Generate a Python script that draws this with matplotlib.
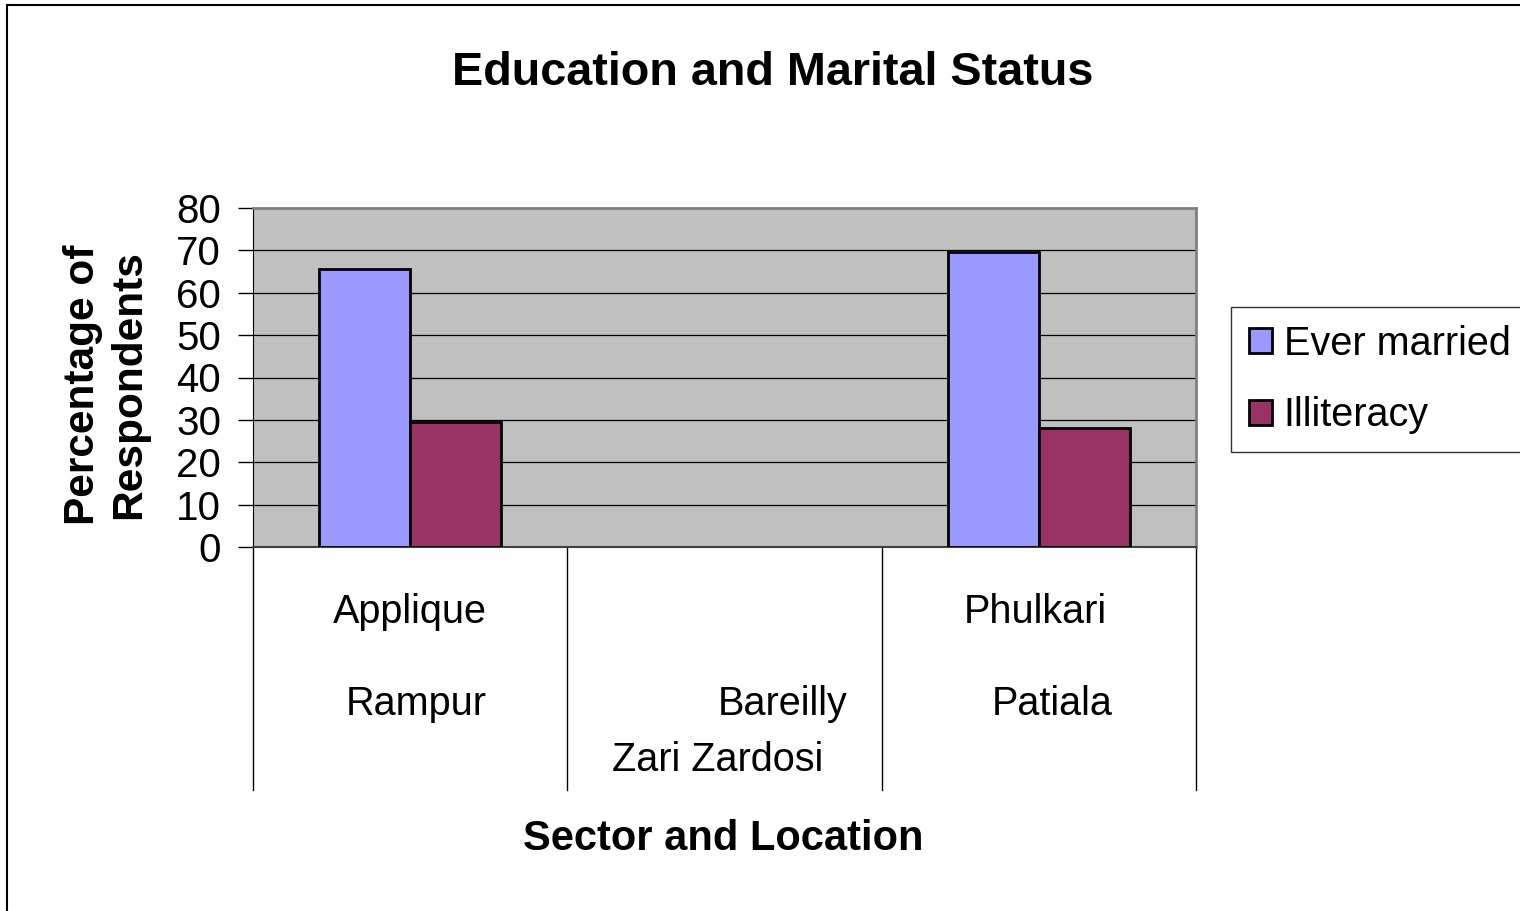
import matplotlib
matplotlib.use("Agg")
import matplotlib.pyplot as plt
import numpy as np
from matplotlib.patches import Rectangle, Patch
from matplotlib.transforms import blended_transform_factory

plt.rcParams['font.family'] = ['Liberation Sans', 'DejaVu Sans']

# data
sectors = ["Applique", "Zari Zardosi", "Phulkari"]
locations = ["Rampur", "Bareilly", "Patiala"]
series_names = ["Ever married", "Illiteracy"]
ever_married = [65.5, np.nan, 69.5]
illiteracy = [29.5, np.nan, 28.0]
yticks = [0, 10, 20, 30, 40, 50, 60, 70, 80]

colors = ["#9999FF", "#993366"]

fig = plt.figure(figsize=(15.2, 9.11), dpi=100)
fig.patch.set_facecolor("white")

W, H = 1520, 911
ax = fig.add_axes([253 / W, 1 - 547 / H, (1196 - 253) / W, (547 - 208) / H])
ax.set_facecolor("#C0C0C0")

x = np.arange(len(sectors))
bw = 0.29
for i, (vals, c) in enumerate(zip([ever_married, illiteracy], colors)):
    v = np.array(vals, dtype=float)
    ok = ~np.isnan(v)
    ax.bar(x[ok] + (i - 0.5) * bw, v[ok], width=bw, color=c,
           edgecolor="black", linewidth=2, zorder=3)

ax.set_xlim(-0.5, len(sectors) - 0.5)
ax.set_ylim(0, 80)
ax.set_yticks(yticks)
ax.set_yticklabels([str(t) for t in yticks], fontsize=29)
ax.tick_params(axis="y", length=11, width=1, pad=12, color="black")
ax.set_xticks([])
ax.yaxis.grid(True, color="black", linewidth=0.9, zorder=1)
ax.set_axisbelow(True)

ax.spines["top"].set_color("#808080")
ax.spines["right"].set_color("#808080")
ax.spines["top"].set_linewidth(2)
ax.spines["right"].set_linewidth(2)
ax.spines["left"].set_color("black")
ax.spines["bottom"].set_color("#404040")
ax.spines["bottom"].set_linewidth(1.5)

# category separators below the axis
tr = blended_transform_factory(ax.transData, ax.transAxes)
for b in np.arange(len(sectors) + 1) - 0.5:
    ax.plot([b, b], [0, -0.717], color="black", linewidth=1,
            transform=tr, clip_on=False)

# category labels (wrapped Excel-style)
offsets = [
    [(0.0, -0.192, "center"), (0.02, -0.463, "center")],
    [(-0.021, -0.628, "center"), (0.393, -0.463, "right")],
    [(-0.012, -0.192, "center"), (0.042, -0.463, "center")],
]
for i in range(len(sectors)):
    (dx1, y1, ha1), (dx2, y2, ha2) = offsets[i]
    ax.text(x[i] + dx1, y1, sectors[i], transform=tr, ha=ha1, va="center", fontsize=28.5)
    ax.text(x[i] + dx2, y2, locations[i], transform=tr, ha=ha2, va="center", fontsize=28.5)

fig.text(773 / W, 1 - 73 / H, "Education and Marital Status", ha="center", va="center",
         fontsize=33.7, fontweight="bold")
fig.text(723 / W, 1 - 839 / H, "Sector and Location", ha="center", va="center",
         fontsize=30, fontweight="bold")
fig.text(106 / W, 1 - 385 / H, "Percentage of\nRespondents", ha="center", va="center",
         rotation=90, fontsize=30.5, fontweight="bold", linespacing=1.18)

handles = [Patch(facecolor=c, edgecolor="black", linewidth=2) for c in colors]
leg = fig.legend(handles, series_names, loc="upper left",
                 bbox_to_anchor=(1231 / W, 1 - 307 / H), bbox_transform=fig.transFigure,
                 fontsize=28.5, frameon=True, fancybox=False, edgecolor="black",
                 handlelength=0.58, handleheight=0.6, handletextpad=0.3,
                 labelspacing=0.85, borderpad=0.45, borderaxespad=0)
leg.get_frame().set_linewidth(1)

# outer chart border
fig.patches.append(Rectangle((7 / W, -0.1), 1.2, 1 - 5 / H + 0.1, transform=fig.transFigure,
                             fill=False, edgecolor="black", linewidth=1.5))

fig.savefig("out.png", dpi=100)
